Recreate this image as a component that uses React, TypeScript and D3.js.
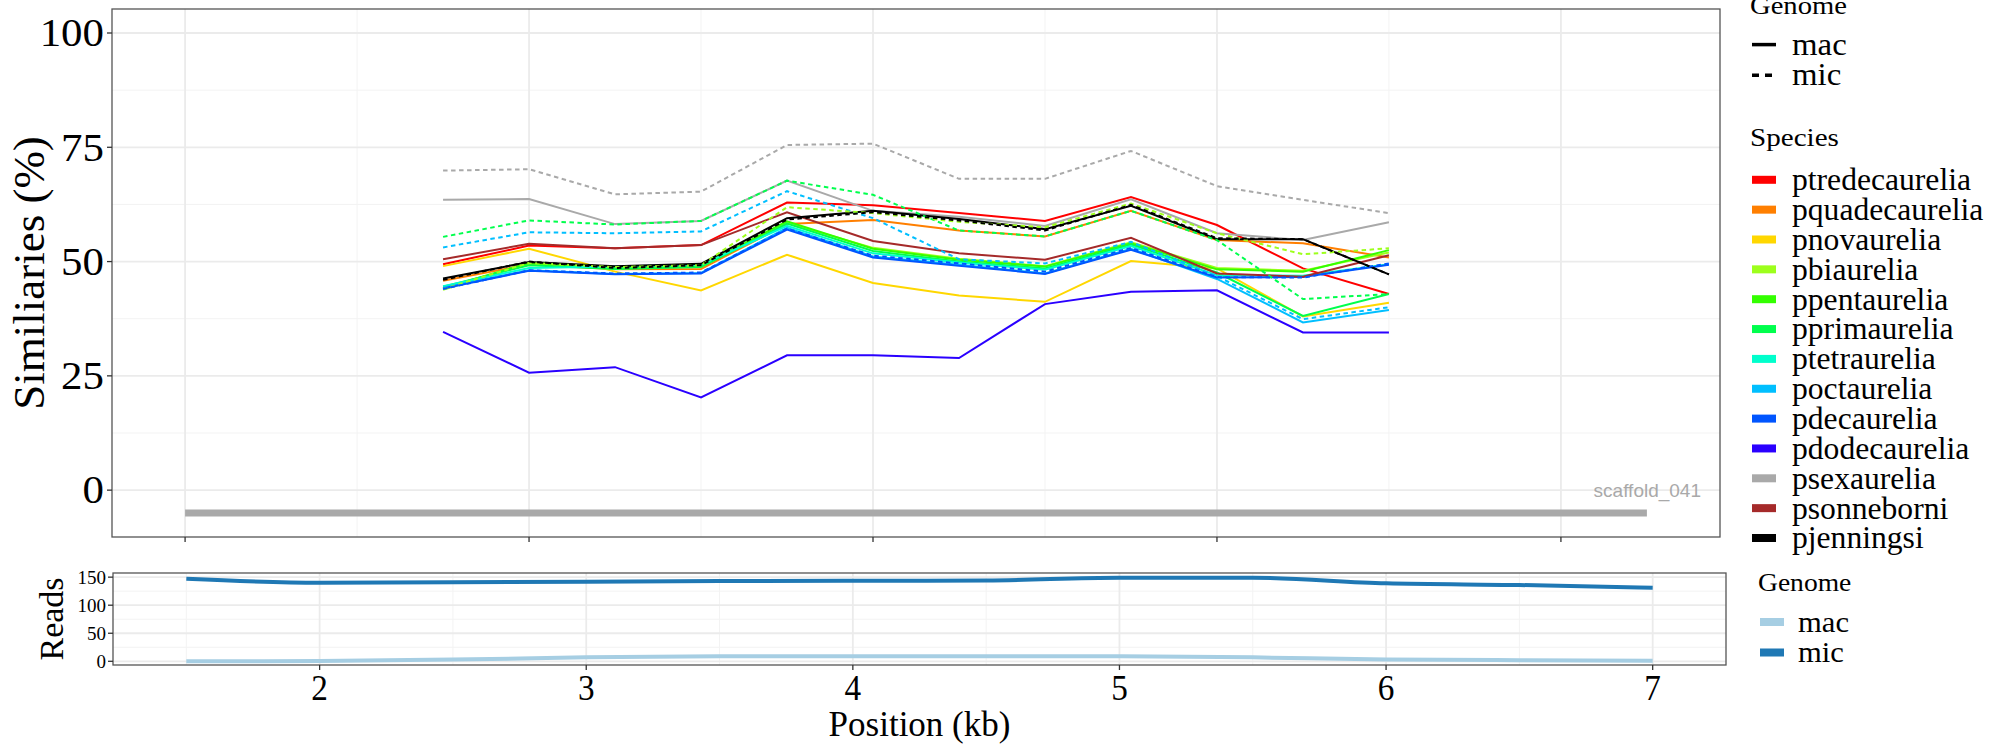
import React from "react";
import * as d3 from "d3";

// ---------- data ----------
const windowIndex = [3, 4, 5, 6, 7, 8, 9, 10, 11, 12, 13, 14];
const mainXTicks = [0, 4, 8, 12, 16];
const mainYTicks = [0, 25, 50, 75, 100];

const species = [
  "ptredecaurelia", "pquadecaurelia", "pnovaurelia", "pbiaurelia", "ppentaurelia",
  "pprimaurelia", "ptetraurelia", "poctaurelia", "pdecaurelia", "pdodecaurelia",
  "psexaurelia", "psonneborni", "pjenningsi",
];
const speciesColors = [
  "#FF0000", "#FF7F00", "#FFD700", "#9DFF1C", "#33FF00",
  "#00FF4D", "#00FFCC", "#00BFFF", "#0055FF", "#2A00FF",
  "#A9A9A9", "#A52A2A", "#000000",
];
const genomes = ["mac", "mic"];

const macPtredecaurelia = [49.4, 53.5, 52.9, 53.6, 62.9, 62.3, 60.6, 58.9, 64.1, 58.0, 48.5, 42.9];
const macPquadecaurelia = [45.8, 49.4, 48.3, 48.4, 58.2, 59.1, 56.8, 55.5, 61.1, 54.7, 54.0, 50.9];
const macPnovaurelia = [49.0, 52.8, 47.8, 43.7, 51.5, 45.3, 42.6, 41.2, 50.1, 48.5, 38.0, 41.0];
const macPbiaurelia = [43.8, 49.6, 48.6, 49.0, 58.5, 53.0, 50.6, 49.0, 54.2, 48.6, 48.0, 52.0];
const macPpentaurelia = [44.2, 49.7, 48.7, 49.1, 58.8, 52.8, 50.4, 48.9, 54.0, 48.3, 47.8, 52.5];
const macPprimaurelia = [44.5, 49.2, 48.4, 48.8, 58.3, 52.3, 50.0, 48.5, 53.7, 47.6, 38.1, 42.9];
const macPtetraurelia = [44.6, 48.6, 48.9, 49.3, 57.8, 51.8, 49.8, 48.2, 53.4, 47.0, 46.9, 49.4];
const macPoctaurelia = [44.3, 48.1, 47.3, 47.5, 57.4, 51.1, 49.3, 47.4, 52.8, 46.2, 36.7, 39.4];
const macPdecaurelia = [44.1, 48.0, 47.2, 47.4, 57.0, 50.9, 49.1, 47.3, 52.6, 46.5, 46.6, 49.3];
const macPdodecaurelia = [34.6, 25.7, 26.9, 20.3, 29.5, 29.5, 28.9, 40.7, 43.4, 43.7, 34.5, 34.5];
const macPsexaurelia = [63.5, 63.7, 58.2, 58.9, 67.7, 61.1, 59.8, 57.8, 63.6, 56.2, 54.7, 58.6];
const macPsonneborni = [50.5, 53.9, 52.9, 53.6, 60.8, 54.5, 51.8, 50.4, 55.2, 47.4, 46.7, 51.4];
const macPjenningsi = [46.3, 49.9, 49.0, 49.5, 59.5, 61.1, 59.3, 57.1, 62.2, 54.9, 54.9, 47.2];

const micPsexaurelia = [69.9, 70.2, 64.7, 65.3, 75.5, 75.8, 68.1, 68.1, 74.2, 66.5, 63.5, 60.6];
const micPprimaurelia = [55.4, 59.0, 58.1, 58.9, 67.7, 64.6, 56.8, 55.5, 61.1, 54.7, 41.8, 42.9];
const micPoctaurelia = [53.1, 56.4, 56.2, 56.6, 65.4, 59.5, 50.5, 49.6, 54.3, 46.8, 37.4, 40.0];
const micPbiaurelia = [44.0, 49.7, 48.8, 49.2, 61.9, 60.6, 58.7, 57.5, 62.7, 56.2, 51.6, 52.9];
const micPjenningsi = [46.0, 50.0, 48.6, 49.2, 59.2, 60.8, 59.0, 56.8, 62.4, 55.1, 54.9, 47.2];
const micPdecaurelia = [44.0, 48.1, 47.4, 47.6, 57.2, 51.3, 49.6, 47.8, 53.0, 46.6, 46.5, 49.6];

const scaffoldName = "scaffold_041";
const scaffoldStart = 0;
const scaffoldEnd = 17;
const scaffoldLevel = -5;

const readPositions = [1.5, 2, 2.5, 3, 3.5, 4, 4.5, 5, 5.5, 6, 6.5, 7];
const readsMac = [0, 0.5, 3, 7, 9, 9, 9, 9, 7, 3, 2, 1];
const readsMic = [147, 140, 141, 142, 143, 143.5, 144, 149, 149, 139, 136, 131];
const readsXTicks = [2, 3, 4, 5, 6, 7];
const readsYTicks = [0, 50, 100, 150];
const readsColors = ["#A6CEE3", "#1F78B4"];

type Series = { sp: string; genome: string; values: number[] };
const series: Series[] = [
  { sp: "ptredecaurelia", genome: "mac", values: macPtredecaurelia },
  { sp: "pquadecaurelia", genome: "mac", values: macPquadecaurelia },
  { sp: "pnovaurelia", genome: "mac", values: macPnovaurelia },
  { sp: "pbiaurelia", genome: "mac", values: macPbiaurelia },
  { sp: "ppentaurelia", genome: "mac", values: macPpentaurelia },
  { sp: "pprimaurelia", genome: "mac", values: macPprimaurelia },
  { sp: "ptetraurelia", genome: "mac", values: macPtetraurelia },
  { sp: "poctaurelia", genome: "mac", values: macPoctaurelia },
  { sp: "pdecaurelia", genome: "mac", values: macPdecaurelia },
  { sp: "pdodecaurelia", genome: "mac", values: macPdodecaurelia },
  { sp: "psexaurelia", genome: "mac", values: macPsexaurelia },
  { sp: "psonneborni", genome: "mac", values: macPsonneborni },
  { sp: "pjenningsi", genome: "mac", values: macPjenningsi },
  { sp: "psexaurelia", genome: "mic", values: micPsexaurelia },
  { sp: "pprimaurelia", genome: "mic", values: micPprimaurelia },
  { sp: "poctaurelia", genome: "mic", values: micPoctaurelia },
  { sp: "pbiaurelia", genome: "mic", values: micPbiaurelia },
  { sp: "pdecaurelia", genome: "mic", values: micPdecaurelia },
  { sp: "pjenningsi", genome: "mic", values: micPjenningsi },
];

// ---------- layout ----------
const W = 2000;
const H = 750;
const serif = "'Liberation Serif', 'Times New Roman', serif";
const sans = "'Liberation Sans', Arial, sans-serif";
const gridMajor = "#EBEBEB";
const gridMinor = "#F3F3F3";
const border = "#555555";

const main = { left: 112, right: 1720, top: 9, bottom: 537 };
const reads = { left: 113, right: 1726, top: 573, bottom: 665 };

const xMain = d3.scaleLinear().domain([-0.85, 17.85]).range([main.left, main.right]);
const yMain = d3.scaleLinear().domain([-10.25, 105.25]).range([main.bottom, main.top]);
const xReads = d3.scaleLinear().domain([1.225, 7.275]).range([reads.left, reads.right]);
const yReads = d3.scaleLinear().domain([-6.6, 157.4]).range([reads.bottom, reads.top]);

const colorOf = d3.scaleOrdinal<string, string>().domain(species).range(speciesColors);

type STextProps = {
  x: number;
  y: number;
  size: number;
  sx?: number;
  anchor?: "start" | "middle" | "end";
  central?: boolean;
  rotate?: number;
  family?: string;
  fill?: string;
  children: React.ReactNode;
};
function SText({ x, y, size, sx = 1, anchor = "start", central, rotate = 0, family = serif, fill = "#000", children }: STextProps) {
  return (
    <text
      transform={`translate(${x},${y}) rotate(${rotate}) scale(${sx},1)`}
      textAnchor={anchor}
      dominantBaseline={central ? "central" : undefined}
      fontSize={size}
      fontFamily={family}
      fill={fill}
    >
      {children}
    </text>
  );
}

export default function App() {
  const mainLine = d3
    .line<number>()
    .x((_, i) => xMain(windowIndex[i]))
    .y((d) => yMain(d));
  const readsLine = d3
    .line<number>()
    .x((_, i) => xReads(readPositions[i]))
    .y((d) => yReads(d))
    .curve(d3.curveMonotoneX);

  const mainMinorX = [2, 6, 10, 14];
  const mainMinorY = [12.5, 37.5, 62.5, 87.5];
  const readsMinorX = [1.5, 2.5, 3.5, 4.5, 5.5, 6.5];
  const readsMinorY = [25, 75, 125];

  return (
    <svg width={W} height={H} style={{ position: "absolute", left: 0, top: 0, background: "#fff" }} fontFamily={serif}>
      <rect x={0} y={0} width={W} height={H} fill="#fff" />
      {/* ---------- main panel ---------- */}
      <g>
        {mainMinorY.map((v) => (
          <line key={"mny" + v} x1={main.left} x2={main.right} y1={yMain(v)} y2={yMain(v)} stroke={gridMinor} strokeWidth={1} />
        ))}
        {mainMinorX.map((v) => (
          <line key={"mnx" + v} y1={main.top} y2={main.bottom} x1={xMain(v)} x2={xMain(v)} stroke={gridMinor} strokeWidth={1} />
        ))}
        {mainYTicks.map((v) => (
          <line key={"mjy" + v} x1={main.left} x2={main.right} y1={yMain(v)} y2={yMain(v)} stroke={gridMajor} strokeWidth={1.8} />
        ))}
        {mainXTicks.map((v) => (
          <line key={"mjx" + v} y1={main.top} y2={main.bottom} x1={xMain(v)} x2={xMain(v)} stroke={gridMajor} strokeWidth={1.8} />
        ))}
        <line
          x1={xMain(scaffoldStart)}
          x2={xMain(scaffoldEnd)}
          y1={yMain(scaffoldLevel)}
          y2={yMain(scaffoldLevel)}
          stroke="#A9A9A9"
          strokeWidth={7}
        />
        <SText x={1701} y={497} size={19} anchor="end" family={sans} fill="#A9A9A9">
          {scaffoldName}
        </SText>
        {series.map((s) => (
          <path
            key={s.sp + s.genome}
            d={mainLine(s.values) || ""}
            fill="none"
            stroke={colorOf(s.sp)}
            strokeWidth={2}
            strokeDasharray={s.genome === "mic" ? "4.5,3.5" : undefined}
          />
        ))}
        <rect x={main.left} y={main.top} width={main.right - main.left} height={main.bottom - main.top} fill="none" stroke={border} strokeWidth={1.3} />
        {mainYTicks.map((v) => (
          <g key={"yt" + v}>
            <line x1={main.left - 5} x2={main.left} y1={yMain(v)} y2={yMain(v)} stroke="#333" strokeWidth={1.3} />
            <SText x={main.left - 8} y={yMain(v)} size={39} sx={1.1} anchor="end" central>
              {v}
            </SText>
          </g>
        ))}
        {mainXTicks.map((v) => (
          <line key={"xt" + v} x1={xMain(v)} x2={xMain(v)} y1={main.bottom} y2={main.bottom + 5} stroke="#333" strokeWidth={1.3} />
        ))}
        <SText x={44} y={(main.top + main.bottom) / 2} size={45} anchor="middle" rotate={-90}>
          Similiaries (%)
        </SText>
      </g>

      {/* ---------- reads panel ---------- */}
      <g>
        {readsMinorY.map((v) => (
          <line key={"rny" + v} x1={reads.left} x2={reads.right} y1={yReads(v)} y2={yReads(v)} stroke={gridMinor} strokeWidth={1} />
        ))}
        {readsMinorX.map((v) => (
          <line key={"rnx" + v} y1={reads.top} y2={reads.bottom} x1={xReads(v)} x2={xReads(v)} stroke={gridMinor} strokeWidth={1} />
        ))}
        {readsYTicks.map((v) => (
          <line key={"rjy" + v} x1={reads.left} x2={reads.right} y1={yReads(v)} y2={yReads(v)} stroke={gridMajor} strokeWidth={1.8} />
        ))}
        {readsXTicks.map((v) => (
          <line key={"rjx" + v} y1={reads.top} y2={reads.bottom} x1={xReads(v)} x2={xReads(v)} stroke={gridMajor} strokeWidth={1.8} />
        ))}
        <path d={readsLine(readsMac) || ""} fill="none" stroke={readsColors[0]} strokeWidth={4} />
        <path d={readsLine(readsMic) || ""} fill="none" stroke={readsColors[1]} strokeWidth={4} />
        <rect x={reads.left} y={reads.top} width={reads.right - reads.left} height={reads.bottom - reads.top} fill="none" stroke={border} strokeWidth={1.3} />
        {readsYTicks.map((v) => (
          <g key={"ryt" + v}>
            <line x1={reads.left - 5} x2={reads.left} y1={yReads(v)} y2={yReads(v)} stroke="#333" strokeWidth={1.3} />
            <SText x={reads.left - 7} y={yReads(v)} size={19} anchor="end" central>
              {v}
            </SText>
          </g>
        ))}
        {readsXTicks.map((v) => (
          <g key={"rxt" + v}>
            <line x1={xReads(v)} x2={xReads(v)} y1={reads.bottom} y2={reads.bottom + 5} stroke="#333" strokeWidth={1.3} />
            <SText x={xReads(v)} y={700} size={35} sx={0.95} anchor="middle">
              {v}
            </SText>
          </g>
        ))}
        <SText x={63} y={(reads.top + reads.bottom) / 2} size={34} anchor="middle" rotate={-90}>
          Reads
        </SText>
        <SText x={(reads.left + reads.right) / 2} y={736} size={35} anchor="middle">
          Position (kb)
        </SText>
      </g>

      {/* ---------- legends ---------- */}
      <g>
        <SText x={1750} y={14} size={26} sx={1.1}>
          Genome
        </SText>
        {genomes.map((g, i) => {
          const cy = 44.6 + i * 30.7;
          return (
            <g key={"lg" + g}>
              <line x1={1752} x2={1776} y1={cy} y2={cy} stroke="#000" strokeWidth={3.5} strokeDasharray={g === "mic" ? "7,6" : undefined} />
              <SText x={1792} y={cy} size={31} sx={1.06} central>
                {g}
              </SText>
            </g>
          );
        })}
        <SText x={1750} y={146} size={26} sx={1.12}>
          Species
        </SText>
        {species.map((sp, i) => {
          const cy = 179.8 + i * 29.85;
          return (
            <g key={"ls" + sp}>
              <rect x={1752} y={cy - 4} width={24} height={8} fill={colorOf(sp)} />
              <SText x={1792} y={cy} size={31} sx={1.02} central>
                {sp}
              </SText>
            </g>
          );
        })}
        <SText x={1758} y={591} size={26} sx={1.06}>
          Genome
        </SText>
        {genomes.map((g, i) => {
          const cy = 622 + i * 30.5;
          return (
            <g key={"lr" + g}>
              <rect x={1760} y={cy - 4} width={24} height={8} fill={readsColors[i]} />
              <SText x={1798} y={cy} size={30} sx={1.02} central>
                {g}
              </SText>
            </g>
          );
        })}
      </g>
    </svg>
  );
}
